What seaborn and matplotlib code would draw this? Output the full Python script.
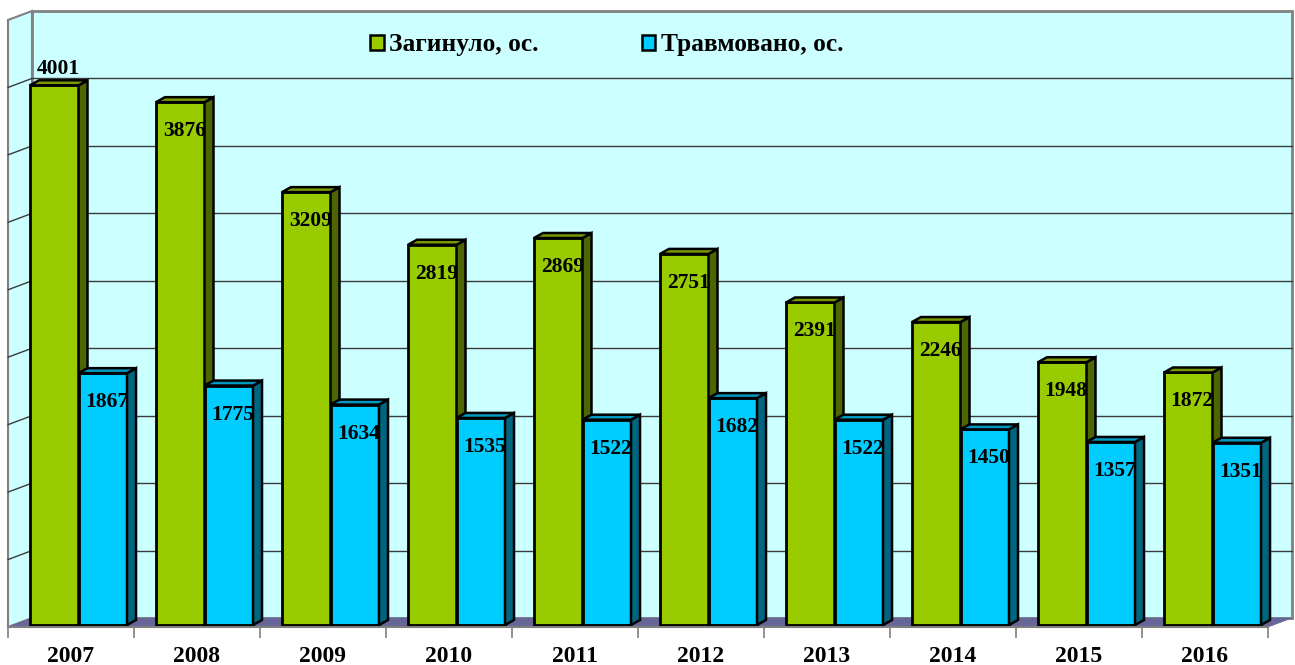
import matplotlib.pyplot as plt
from matplotlib.patches import Patch, Polygon
from matplotlib.transforms import IdentityTransform, ScaledTranslation
import numpy as np
import pandas as pd
import seaborn as sns

# Data.
years = ["2007", "2008", "2009", "2010", "2011",
         "2012", "2013", "2014", "2015", "2016"]
killed = [4001, 3876, 3209, 2819, 2869, 2751, 2391, 2246, 1948, 1872]
injured = [1867, 1775, 1634, 1535, 1522, 1682, 1522, 1450, 1357, 1351]
series_names = ["Загинуло, ос.", "Травмовано, ос."]
y_max = 4500
grid_step = 500

# Colours of the front, top and side of each series.
face_colors = ["#99CC00", "#00CCFF"]
top_colors = ["#7A9900", "#0099C0"]
side_colors = ["#4D6600", "#006680"]

# Fake 3D depth, in pixels.
WALL_DX, WALL_DY = 24, 9
BAR_SHIFT_X, BAR_SHIFT_Y = 7.5, 2
BAR_DX, BAR_DY = 9, 5


def px(ax, x, y, dx=0, dy=0):
    """ Data point to display pixels, with an optional depth offset. """
    p = ax.transData.transform((x, y))
    return (p[0] + dx, p[1] + dy)


def draw_box(ax, n):
    """ Draws back wall, side wall, floor and gridlines. """
    left, right = -0.5, n - 0.5
    ident = IdentityTransform()

    back = [px(ax, left, 0, WALL_DX, WALL_DY), px(ax, right, 0, WALL_DX, WALL_DY),
            px(ax, right, y_max, WALL_DX, WALL_DY), px(ax, left, y_max, WALL_DX, WALL_DY)]
    ax.add_patch(Polygon(back, closed=True, facecolor="#CCFFFF",
                         edgecolor="#808080", linewidth=2,
                         transform=ident, zorder=0.5, clip_on=False))

    side = [px(ax, left, 0), px(ax, left, 0, WALL_DX, WALL_DY),
            px(ax, left, y_max, WALL_DX, WALL_DY), px(ax, left, y_max)]
    ax.add_patch(Polygon(side, closed=True, facecolor="#CCFFFF",
                         edgecolor="#808080", linewidth=1.5,
                         transform=ident, zorder=0.6, clip_on=False))

    floor = [px(ax, left, 0), px(ax, right, 0),
             px(ax, right, 0, WALL_DX, WALL_DY), px(ax, left, 0, WALL_DX, WALL_DY)]
    ax.add_patch(Polygon(floor, closed=True, facecolor="#666699",
                         edgecolor="#666699", linewidth=0.5,
                         transform=ident, zorder=0.7, clip_on=False))

    for v in np.arange(grid_step, y_max, grid_step):
        a = px(ax, left, v, WALL_DX, WALL_DY)
        b = px(ax, right, v, WALL_DX, WALL_DY)
        c = px(ax, left, v)
        ax.plot([a[0], b[0]], [a[1], b[1]], color="#3A3A3A", linewidth=1,
                transform=ident, zorder=0.8, clip_on=False)
        ax.plot([c[0], a[0]], [c[1], a[1]], color="#3A3A3A", linewidth=1,
                transform=ident, zorder=0.8, clip_on=False)


def plot_accidents():
    """ Plots the 3D-looking grouped bar chart. """

    df = pd.DataFrame({
        "year": years * 2,
        "value": killed + injured,
        "series": [series_names[0]] * len(years) + [series_names[1]] * len(years),
    })

    sns.set_theme(style="white")
    plt.rcParams["font.family"] = ["Liberation Serif", "DejaVu Serif"]
    plt.rcParams["text.color"] = "black"
    plt.rcParams["xtick.labelcolor"] = "black"

    fig = plt.figure(figsize=(12.95, 6.65), dpi=100)
    ax = fig.add_axes([8 / 1295, 38 / 665, 1260 / 1295, 607 / 665])
    ax.patch.set_visible(False)

    sns.barplot(data=df, x="year", y="value", hue="series",
                palette=face_colors, saturation=1, width=0.77,
                edgecolor="black", linewidth=2, legend=False, ax=ax)

    n = len(years)
    ax.set_xlim(-0.5, n - 0.5)
    ax.set_ylim(0, y_max)
    draw_box(ax, n)

    shift = ScaledTranslation(BAR_SHIFT_X / 100, BAR_SHIFT_Y / 100,
                              fig.dpi_scale_trans)
    ident = IdentityTransform()
    top_value = max(killed + injured)

    for i, container in enumerate(ax.containers):
        for bar, v in zip(container.patches, container.datavalues):
            bar.set_transform(ax.transData + shift)
            bar.set_zorder(3 + i * 0.2)

            x0, x1 = bar.get_x(), bar.get_x() + bar.get_width()
            sx, sy = BAR_SHIFT_X, BAR_SHIFT_Y
            br = px(ax, x1, 0, sx, sy)
            tl = px(ax, x0, v, sx, sy)
            tr = px(ax, x1, v, sx, sy)

            side = [br, (br[0] + BAR_DX, br[1] + BAR_DY),
                    (tr[0] + BAR_DX, tr[1] + BAR_DY), tr]
            top = [tl, tr, (tr[0] + BAR_DX, tr[1] + BAR_DY),
                   (tl[0] + BAR_DX, tl[1] + BAR_DY)]
            ax.add_patch(Polygon(side, closed=True, facecolor=side_colors[i],
                                 edgecolor="black", linewidth=1.8,
                                 transform=ident, zorder=3.1 + i * 0.2,
                                 clip_on=False))
            ax.add_patch(Polygon(top, closed=True, facecolor=top_colors[i],
                                 edgecolor="black", linewidth=1.8,
                                 transform=ident, zorder=3.1 + i * 0.2,
                                 clip_on=False))

            # Labels sit inside the bar top, the tallest one above it.
            dy = 16 if v == top_value else -29
            ax.annotate(f"{int(v)}", xy=((x0 + x1) / 2, v),
                        xytext=(sx + 4, sy + dy), textcoords="offset pixels",
                        ha="center", va="center", fontsize=15.5,
                        fontweight="bold", color="black", zorder=5,
                        annotation_clip=False)

    # Axis: only the bottom line with ticks between the years.
    for s in ["top", "right", "left"]:
        ax.spines[s].set_visible(False)
    ax.spines["bottom"].set_color("#808080")
    ax.spines["bottom"].set_linewidth(1.5)
    ax.spines["bottom"].set_zorder(4)
    ax.set_yticks([])
    ax.set_xticks(range(n))
    ax.set_xticklabels(years, fontsize=17, fontweight="bold", color="black")
    ax.set_xticks(np.arange(-0.5, n, 1), minor=True)
    ax.tick_params(axis="x", which="major", length=0, pad=14)
    ax.tick_params(axis="x", which="minor", length=8, width=1.2,
                   color="#808080", direction="out", bottom=True)
    ax.set_xlabel("")
    ax.set_ylabel("")

    handles = [Patch(facecolor=c, edgecolor="black", linewidth=1.8, label=name)
               for c, name in zip(face_colors, series_names)]
    fig.legend(handles=handles, loc="center left",
               bbox_to_anchor=(370 / 1295, 1 - 45 / 665), ncol=2,
               frameon=False, prop={"weight": "bold", "size": 18.3},
               labelcolor="black",
               handlelength=0.55, handleheight=0.55, handletextpad=0.2,
               columnspacing=4.05, borderpad=0, borderaxespad=0)

    fig.savefig("out.png", dpi=100)


if __name__ == "__main__":
    plot_accidents()
